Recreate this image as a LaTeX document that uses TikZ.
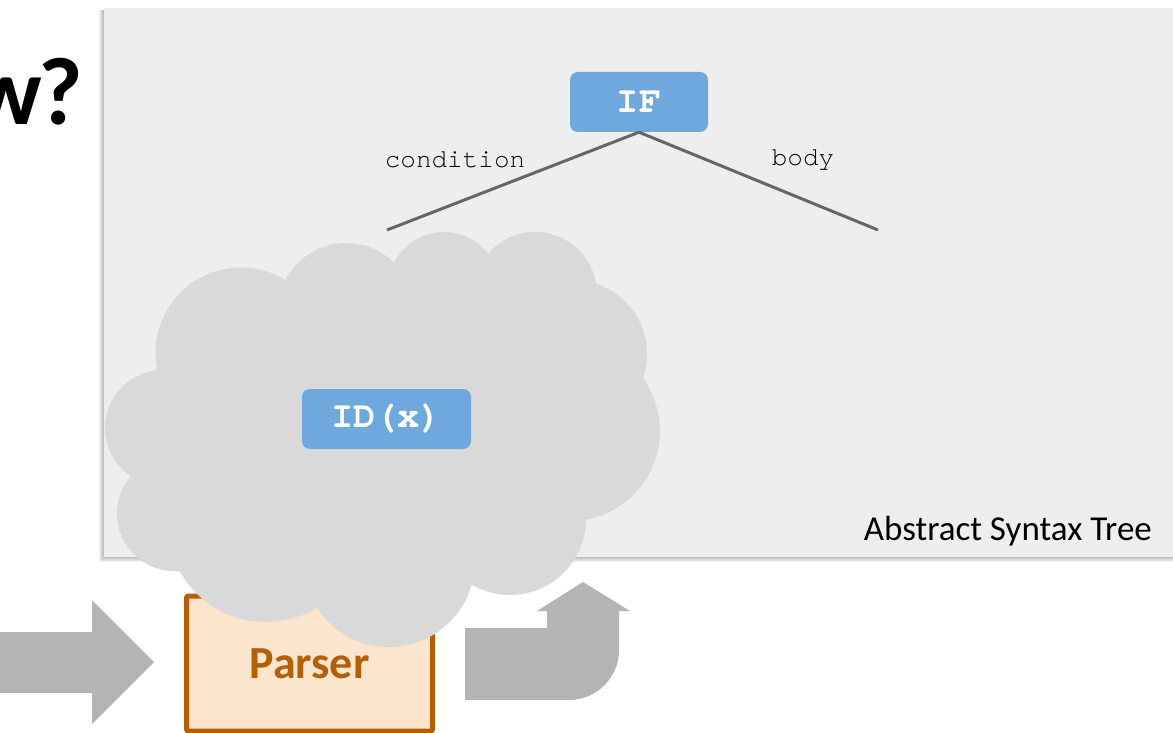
\documentclass[tikz,border=0pt]{standalone}
\usepackage{fontspec}
\setmainfont{Carlito}
\newfontfamily\codefont{TeX Gyre Cursor}
\definecolor{panelgray}{HTML}{EEEEEE}
\definecolor{cloudgray}{HTML}{D9D9D9}
\definecolor{nodeblue}{HTML}{6FA8DC}
\definecolor{edgegray}{HTML}{666666}
\definecolor{arrowgray}{HTML}{B4B4B4}
\definecolor{parserorange}{HTML}{B45F06}
\definecolor{parserfill}{HTML}{FCE5CD}
\begin{document}
\begin{tikzpicture}[x=1pt,y=-1pt,
  treenode/.style={fill=nodeblue, rounded corners=8pt, text=white,
    font=\codefont\bfseries\fontsize{37}{42}\selectfont,
    minimum width=#1, minimum height=60pt, inner sep=0pt},
  edge/.style={draw=edgegray, line width=3pt},
  edgelabel/.style={font=\codefont\fontsize{26}{30}\selectfont, inner sep=0pt},
  cloudpart/.style={fill=cloudgray},
  blockarrow/.style={fill=arrowgray}]
\useasboundingbox (0,0) rectangle (1173,733);

% panel with a soft drop shadow
\foreach \k in {1,...,5}
  \fill[black, opacity=0.055] (104-\k,10) rectangle (1180,557+\k);
\fill[panelgray] (104,8) rectangle (1180,557);

% tree
\node[treenode=138pt] (if) at (639,102) {IF};
\coordinate (condend) at (387,230);
\coordinate (bodyend) at (878,230);
\draw[edge] (if.south) -- (condend);
\draw[edge] (if.south) -- (bodyend);
\node[edgelabel] (condlbl) at (455,160) {condition};
\node[edgelabel] (bodylbl) at (803,160) {body};

% block arrows
\fill[blockarrow] (-5,632) -- (92,632) -- (92,600) -- (154,662) -- (92,724)
  -- (92,693) -- (-5,693) -- cycle;
\fill[blockarrow] (465,628) -- (547,628) -- (547,611) -- (537,611) -- (583,582)
  -- (630,611) -- (619,611) -- (619,650)
  .. controls (619,677.6) and (596.6,700) .. (569,700)
  -- (465,700) -- cycle;

% parser
\node[draw=parserorange, line width=5pt, fill=parserfill, rounded corners=2pt,
  minimum width=246pt, minimum height=135pt, inner sep=0pt,
  text=parserorange, font=\bfseries\fontsize{46}{52}\selectfont]
  (parser) at (309.5,663.5) {Parser};

% cloud
\fill[cloudpart] (155,370) -- (131,476) -- (177,571) -- (317,608) -- (472,585)
  -- (585,520) -- (643,378) -- (596,283) -- (488,253) -- (394,263) -- (285,280) -- cycle;
\fill[cloudpart] (163,428) circle[radius=58pt];
\fill[cloudpart] (174.5,513.6) circle[radius=57.5pt];
\fill[cloudpart] (266,523) circle[radius=99pt];
\fill[cloudpart] (389,561) circle[radius=86pt];
\fill[cloudpart] (510,519) circle[radius=76pt];
\fill[cloudpart] (570,431) circle[radius=90pt];
\fill[cloudpart] (573,354) circle[radius=74pt];
\fill[cloudpart] (535,294) circle[radius=62pt];
\fill[cloudpart] (444,288) circle[radius=56pt];
\fill[cloudpart] (346,311) circle[radius=68pt];
\fill[cloudpart] (241,353) circle[radius=85.5pt];

\node[treenode=169pt] (id) at (386.5,419) {ID(x)};

% captions
\node[anchor=base east, inner sep=0pt, font=\fontsize{35}{40}\selectfont]
  (astlbl) at (1152,540) {Abstract Syntax Tree};
\node[anchor=base east, inner sep=0pt, font=\bfseries\fontsize{96}{106}\selectfont]
  (title) at (83,125) {w\kern-4pt?};
\end{tikzpicture}
\end{document}
